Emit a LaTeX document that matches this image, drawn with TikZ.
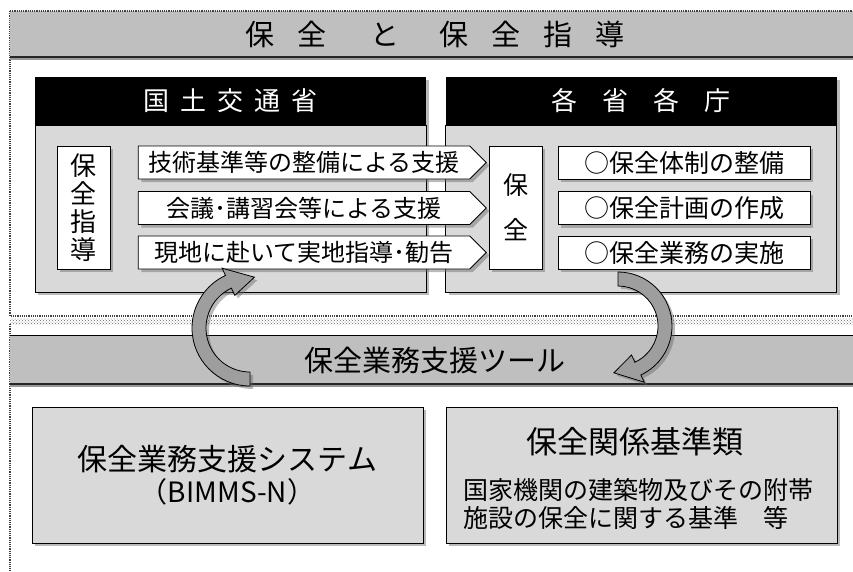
\documentclass[tikz,border=0pt]{standalone}
\usepackage{fontspec}
\setmainfont{Noto Sans CJK JP}
\usetikzlibrary{shapes.symbols,shadows,calc,patterns}
\newcommand\fsz[2]{\fontsize{#1}{#2}\selectfont}

\begin{document}
\begin{tikzpicture}[x=1pt,y=-1pt]
\useasboundingbox (0,0) rectangle (853,571);
\tikzstyle{shd}=[drop shadow={shadow xshift=3pt,shadow yshift=-3pt,fill=black!60,opacity=.45}]
\tikzstyle{frm}=[densely dotted, line width=1.2pt, black!75]
\tikzstyle{hdr}=[fill=black, text=white, inner sep=0pt, minimum width=391pt,
                 minimum height=48pt, font=\fsz{26}{26}, shd]
\tikzstyle{panel}=[draw, line width=1pt, fill=black!15, inner sep=0pt,
                   minimum width=391pt, minimum height=167pt, shd]
\tikzstyle{wbox}=[draw, line width=.8pt, fill=white, inner sep=0pt, shd]
\tikzstyle{sig}=[wbox, signal, signal to=east, minimum width=348pt,
                 minimum height=33pt, font=\fsz{24}{24}]
\tikzstyle{item}=[wbox, minimum width=252pt, minimum height=33pt, font=\fsz{25}{25}]
\tikzstyle{tool}=[draw, line width=1pt, fill=black!15, inner sep=0pt,
                  minimum width=391pt, minimum height=136pt, shd]
\tikzstyle{band}=[draw, line width=.8pt, fill=black!38, shd]
% frames and banners
\draw[frm] (10,11) -- (10,316) -- (853,316);
\fill[pattern=crosshatch dots, pattern color=black!60] (10,318) rectangle (853,324);
\draw[frm] (10,324) -- (10,571);
\fill[black!25] (10,11) rectangle (853,56);
\draw[frm] (10,11) -- (853,11);
\draw[black!40, line width=2pt] (10,59) -- (853,59);
\draw[black!85, line width=2pt] (10,57) -- (853,57);
\node (title) at (435,34) {\fsz{29}{29}保\hspace{23pt}全\hspace{44pt}と\hspace{40pt}保\hspace{23pt}全\hspace{23pt}指\hspace{23pt}導};
\fill[black!25] (10,335) rectangle (853,384);
\draw[line width=.8pt] (10,335) -- (853,335);
\draw[black!40, line width=2pt] (10,386) -- (853,386);
\draw[black!85, line width=1.6pt] (10,384) -- (853,384);
\node (tools) at (435,360) {\fsz{29}{29}保全業務支援ツール};
% ministry panels
\node[hdr] (mlit) at (230.5,101) {国\hspace{11pt}土\hspace{11pt}交\hspace{11pt}通\hspace{11pt}省};
\node[panel] (mlitbody) at (230.5,208.5) {};
\node[hdr] (each) at (641,101) {各\hspace{25pt}省\hspace{25pt}各\hspace{25pt}庁};
\node[panel] (eachbody) at (641,208.5) {};
\node[wbox, minimum width=53pt, minimum height=123pt, align=center,
      font=\fsz{26}{28}] (shido) at (83.5,207.5) {保\\全\\指\\導};
\node[sig] (s1) at (304,162.5) {技術基準等の整備による支援};
\node[sig] (s2) at (304,208) {会議･講習会等による支援};
\node[sig] (s3) at (304,252.5) {現地に赴いて実地指導･勧告};
\node[wbox, minimum width=53pt, minimum height=123pt, align=center,
      font=\fsz{25}{45}] (hozen) at (515.5,207.5) {保\\全};
\node[item] (i1) at (684,162.5) {○保全体制の整備};
\node[item] (i2) at (684,208) {○保全計画の作成};
\node[item] (i3) at (684,252.5) {○保全業務の実施};
% support tools
\node[tool, align=center] (bimms) at (227.5,475)
  {{\fsz{30}{36}保全業務支援システム}\\[5pt]{\fsz{28}{36}（BIMMS-N）}};
\node[tool] (kijun) at (641.5,475) {};
\node[font=\fsz{31}{31}] (kijuntitle) at (634.5,442) {保全関係基準類};
\node[anchor=west, align=left, inner sep=0pt, font=\fsz{25}{28}] (kijuntext) at (463,504)
  {国家機関の建築物及びその附帯\\施設の保全に関する基準　等};
% curved arrows
\coordinate (cl) at (250,328);
\coordinate (cr) at (618,326);
\draw[band] ($(cl)+(90:58)$) arc[start angle=90,end angle=245,radius=58]
  -- ($(cl)+(245:66)$) -- ($(cl)+(275:51)$) -- ($(cl)+(245:36)$)
  -- ($(cl)+(245:44)$) arc[start angle=245,end angle=90,radius=44] -- cycle;
\draw[band] ($(cr)+(270:54)$) arc[start angle=270,end angle=425,radius=54]
  -- ($(cr)+(425:62)$) -- ($(cr)+(455:47)$) -- ($(cr)+(425:32)$)
  -- ($(cr)+(425:40)$) arc[start angle=425,end angle=270,radius=40] -- cycle;
\end{tikzpicture}
\end{document}
